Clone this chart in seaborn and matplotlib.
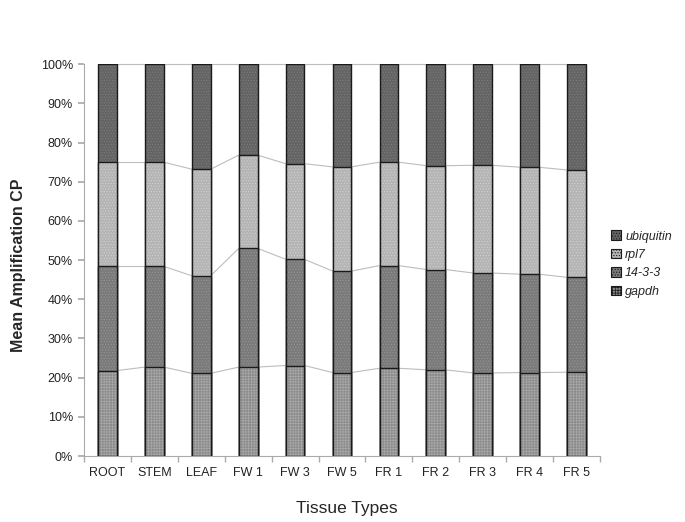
import numpy as np
import pandas as pd
import matplotlib
matplotlib.use("Agg")
import matplotlib.pyplot as plt
import seaborn as sns
from matplotlib.patches import Patch

categories = ["ROOT", "STEM", "LEAF", "FW 1", "FW 3", "FW 5", "FR 1", "FR 2", "FR 3", "FR 4", "FR 5"]
gapdh = [21.8, 22.7, 21.1, 22.7, 23.1, 21.3, 22.4, 22.0, 21.2, 21.3, 21.4]
g1433 = [26.6, 25.7, 24.9, 30.3, 27.1, 25.9, 26.2, 25.6, 25.5, 25.1, 24.2]
rpl7 = [26.6, 26.6, 27.2, 23.8, 24.4, 26.6, 26.4, 26.5, 27.5, 27.3, 27.4]
ubiquitin = [25.0, 25.0, 26.8, 23.2, 25.4, 26.2, 25.0, 25.9, 25.8, 26.3, 27.0]
series_names = ["gapdh", "14-3-3", "rpl7", "ubiquitin"]

sns.set_theme(style="white")
plt.rcParams['font.family'] = ['Liberation Sans', 'DejaVu Sans']
plt.rcParams['hatch.linewidth'] = 0.5

vals = np.array([gapdh, g1433, rpl7, ubiquitin])
tot = vals.sum(axis=0)
pct = vals / tot * 100
cum = np.cumsum(pct, axis=0)

colors = {"gapdh": "#8a8a8a", "14-3-3": "#7a7a7a", "rpl7": "#b4b4b4", "ubiquitin": "#646464"}
hatches = {"gapdh": "++++++", "14-3-3": "......", "rpl7": "......", "ubiquitin": "......"}
hcol = {"gapdh": "#a8a8a8", "14-3-3": "#959595", "rpl7": "#cfcfcf", "ubiquitin": "#7c7c7c"}

fig = plt.figure(figsize=(6.85, 5.22), dpi=100)
ax = fig.add_axes([0.1226, 0.1264, 0.7534, 0.7506])

width = 0.4
n = len(categories)
for i in range(3, -1, -1):
    name = series_names[i]
    df = pd.DataFrame({"cat": categories, "val": cum[i]})
    sns.barplot(data=df, x="cat", y="val", color=colors[name], width=width,
                edgecolor="#1a1a1a", linewidth=1.0, ax=ax, saturation=1)
    for p in ax.patches[-n:]:
        p.set_hatch(hatches[name])
        p.set_facecolor(colors[name])
        p._hatch_color = matplotlib.colors.to_rgba(hcol[name])

# connector lines
x = np.arange(n)
for i in range(4):
    for j in range(n - 1):
        ax.plot([x[j] + width / 2, x[j + 1] - width / 2], [cum[i][j], cum[i][j + 1]],
                color="#bdbdbd", lw=0.8, zorder=0.5, clip_on=False)

ax.set_xlim(-0.5, n - 0.5)
ax.set_ylim(0, 100)
ax.set_yticks(np.arange(0, 101, 10))
ax.set_yticklabels([f"{v}%" for v in range(0, 101, 10)], fontsize=9, color="#222222")
ax.set_xticks(x)
ax.set_xticklabels(categories, fontsize=9, color="#222222")
ax.set_xticks(np.arange(-0.5, n, 1), minor=True)
ax.tick_params(axis="x", which="major", length=0, pad=8)
ax.tick_params(axis="x", which="minor", length=4, color="#aaaaaa", direction="out", bottom=True)
ax.tick_params(axis="y", length=4, color="#aaaaaa", direction="out", left=True, pad=4)
for s in ["top", "right"]:
    ax.spines[s].set_visible(False)
for s in ["left", "bottom"]:
    ax.spines[s].set_color("#aaaaaa")
    ax.spines[s].set_linewidth(0.8)

ax.set_xlabel("Tissue Types", fontsize=12.5)
ax.xaxis.set_label_coords(0.51, -0.115)
ax.set_ylabel("Mean Amplification CP", fontsize=11.5, fontweight="bold")
ax.yaxis.set_label_coords(-0.112, 0.487)

handles = [Patch(facecolor=colors[nm], edgecolor="#1a1a1a", hatch=hatches[nm], linewidth=0.8) for nm in reversed(series_names)]
leg = fig.legend(handles, list(reversed(series_names)), loc="upper left", bbox_to_anchor=(0.876, 0.580),
                 frameon=False, handlelength=0.8, handleheight=0.8, handletextpad=0.3,
                 labelspacing=0.5, prop={"style": "italic", "size": 9})

fig.savefig("out.png", dpi=100)
